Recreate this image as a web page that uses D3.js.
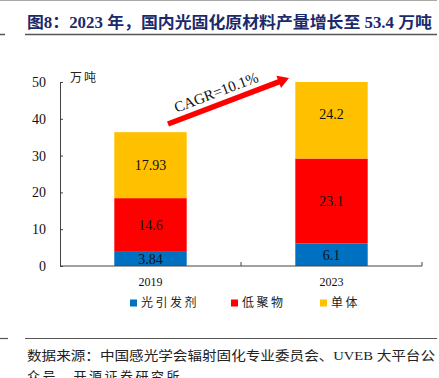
<!DOCTYPE html>
<html><head><meta charset="utf-8">
<script src="https://cdn.jsdelivr.net/npm/d3@7"></script>
<style>body{margin:0;background:#fff}svg{display:block}</style>
</head><body>
<script>
const categories = ["2019", "2023"];
const seriesNames = ["光引发剂", "低聚物", "单体"];
const photoinitiator = [3.84, 6.1];
const oligomer = [14.6, 23.1];
const monomer = [17.93, 24.2];
const yTicks = [0, 10, 20, 30, 40, 50];
const colors = ["#0070C0", "#FF0000", "#FFC000"];
const titleText = "图8：2023 年，国内光固化原材料产量增长至 53.4 万吨";
const source1 = "数据来源：中国感光学会辐射固化专业委员会、UVEB 大平台公";
const source2 = "众号、开源证券研究所";
const cagrText = "CAGR=10.1%";
const unitText = "万吨";

const W = 439, H = 378;
const svg = d3.select("body").append("svg").attr("width", W).attr("height", H);
const serif = "'Liberation Serif','Times New Roman',serif";
const cjk = "'Liberation Serif','Noto Sans CJK SC',serif";

// frame lines
svg.append("line").attr("x1",0).attr("x2",437).attr("y1",0.5).attr("y2",0.5).attr("stroke","#aaa").attr("stroke-width",1);
svg.append("line").attr("x1",0).attr("x2",5).attr("y1",34.5).attr("y2",34.5).attr("stroke","#555").attr("stroke-width",1.5);
svg.append("line").attr("x1",25).attr("x2",437).attr("y1",34.5).attr("y2",34.5).attr("stroke","#555").attr("stroke-width",1.5);
svg.append("line").attr("x1",0).attr("x2",8).attr("y1",338.5).attr("y2",338.5).attr("stroke","#555").attr("stroke-width",1.2);
svg.append("line").attr("x1",25).attr("x2",437).attr("y1",338.5).attr("y2",338.5).attr("stroke","#555").attr("stroke-width",1.2);

svg.append("text").attr("x",27).attr("y",28).text(titleText)
  .attr("font-family",cjk).attr("font-weight","bold").attr("font-size",16)
  .attr("fill","#1B2A6B").attr("textLength",405).attr("lengthAdjust","spacingAndGlyphs");

svg.append("text").attr("x",27).attr("y",360).text(source1)
  .attr("font-family",cjk).attr("font-size",13).attr("fill","#222")
  .attr("textLength",408).attr("lengthAdjust","spacingAndGlyphs");
svg.append("text").attr("x",27).attr("y",381).text(source2)
  .attr("font-family",cjk).attr("font-size",13).attr("fill","#222")
  .attr("letter-spacing",2.5);

// scales
const x = d3.scaleBand().domain(categories).range([60, 422]).paddingInner(0.6).paddingOuter(0.3);
const y = d3.scaleLinear().domain([0, 50]).range([266, 82]);

const data = categories.map((c, i) => ({cat: c, v: [photoinitiator[i], oligomer[i], monomer[i]]}));
const stack = d3.stack().keys([0,1,2]).value((d, k) => d.v[k]);
const layers = stack(data);

svg.append("defs").append("clipPath").attr("id","plot")
  .append("rect").attr("x",60).attr("y",y(50)).attr("width",362).attr("height",y(0)-y(50));

const g = svg.append("g").attr("clip-path","url(#plot)");
layers.forEach((layer, k) => {
  g.selectAll(null).data(layer).enter().append("rect")
    .attr("x", d => x(d.data.cat))
    .attr("width", x.bandwidth())
    .attr("y", d => y(d[1]))
    .attr("height", d => y(d[0]) - y(d[1]))
    .attr("fill", colors[k]);
});
layers.forEach((layer, k) => {
  svg.selectAll(null).data(layer).enter().append("text")
    .attr("x", d => x(d.data.cat) + x.bandwidth()/2)
    .attr("y", d => (y(d[0]) + y(d[1]))/2)
    .attr("dy","0.35em").attr("text-anchor","middle")
    .attr("font-family",serif).attr("font-size",14).attr("fill","#111")
    .text(d => String(d.data.v[k]));
});

// axes
const axisColor = "#444";
const yAxis = svg.append("g").attr("transform","translate(60,0)")
  .call(d3.axisLeft(y).tickValues(yTicks).tickSize(-3).tickPadding(14).tickFormat(d3.format("d")));
yAxis.select(".domain").attr("stroke",axisColor);
yAxis.selectAll(".tick line").attr("stroke",axisColor);
yAxis.selectAll("text").attr("font-family",serif).attr("font-size",14).attr("fill","#111");

const xAxisG = svg.append("g").attr("transform","translate(0,266)");
xAxisG.append("line").attr("x1",60).attr("x2",422).attr("y1",0).attr("y2",0).attr("stroke",axisColor).attr("stroke-width",1.2);
const boundaries = [60 + (422-60)/2, 422];
xAxisG.selectAll(null).data(boundaries).enter().append("line")
  .attr("x1",d=>d).attr("x2",d=>d).attr("y1",0).attr("y2",-4).attr("stroke",axisColor);
xAxisG.selectAll(null).data(categories).enter().append("text")
  .attr("x", d => x(d) + x.bandwidth()/2).attr("y", 20)
  .attr("text-anchor","middle").attr("font-family",serif).attr("font-size",12).attr("fill","#111")
  .text(d => d);

svg.append("text").attr("x",70).attr("y",82).text(unitText)
  .attr("font-family",cjk).attr("font-size",12).attr("fill","#222").attr("letter-spacing",2);

// CAGR arrow
const a0 = [168, 124], a1 = [289, 78];
const ang = Math.atan2(a1[1]-a0[1], a1[0]-a0[0]);
const len = Math.hypot(a1[0]-a0[0], a1[1]-a0[1]);
const arrow = svg.append("g").attr("transform",`translate(${a0[0]},${a0[1]}) rotate(${ang*180/Math.PI})`);
arrow.append("path")
  .attr("d",`M0,-2.8 L${len-11},-2.8 L${len-11},-6.5 L${len},0 L${len-11},6.5 L${len-11},2.8 L0,2.8 Z`)
  .attr("fill","#FF0000");
svg.append("text").attr("transform",`translate(218,97) rotate(${ang*180/Math.PI})`)
  .attr("text-anchor","middle").attr("font-family",serif).attr("font-size",15).attr("fill","#111")
  .text(cagrText);

// legend
const legendX = [130, 231, 320];
const leg = svg.selectAll(null).data(seriesNames).enter().append("g")
  .attr("transform",(d,i)=>`translate(${legendX[i]},303)`);
leg.append("rect").attr("x",0).attr("y",-3.5).attr("width",7).attr("height",7).attr("fill",(d,i)=>colors[i]);
leg.append("text").attr("x",11).attr("y",0).attr("dy","0.35em")
  .attr("font-family",cjk).attr("font-size",12).attr("fill","#222").attr("letter-spacing",2.5)
  .text(d=>d);
</script>
</body></html>
